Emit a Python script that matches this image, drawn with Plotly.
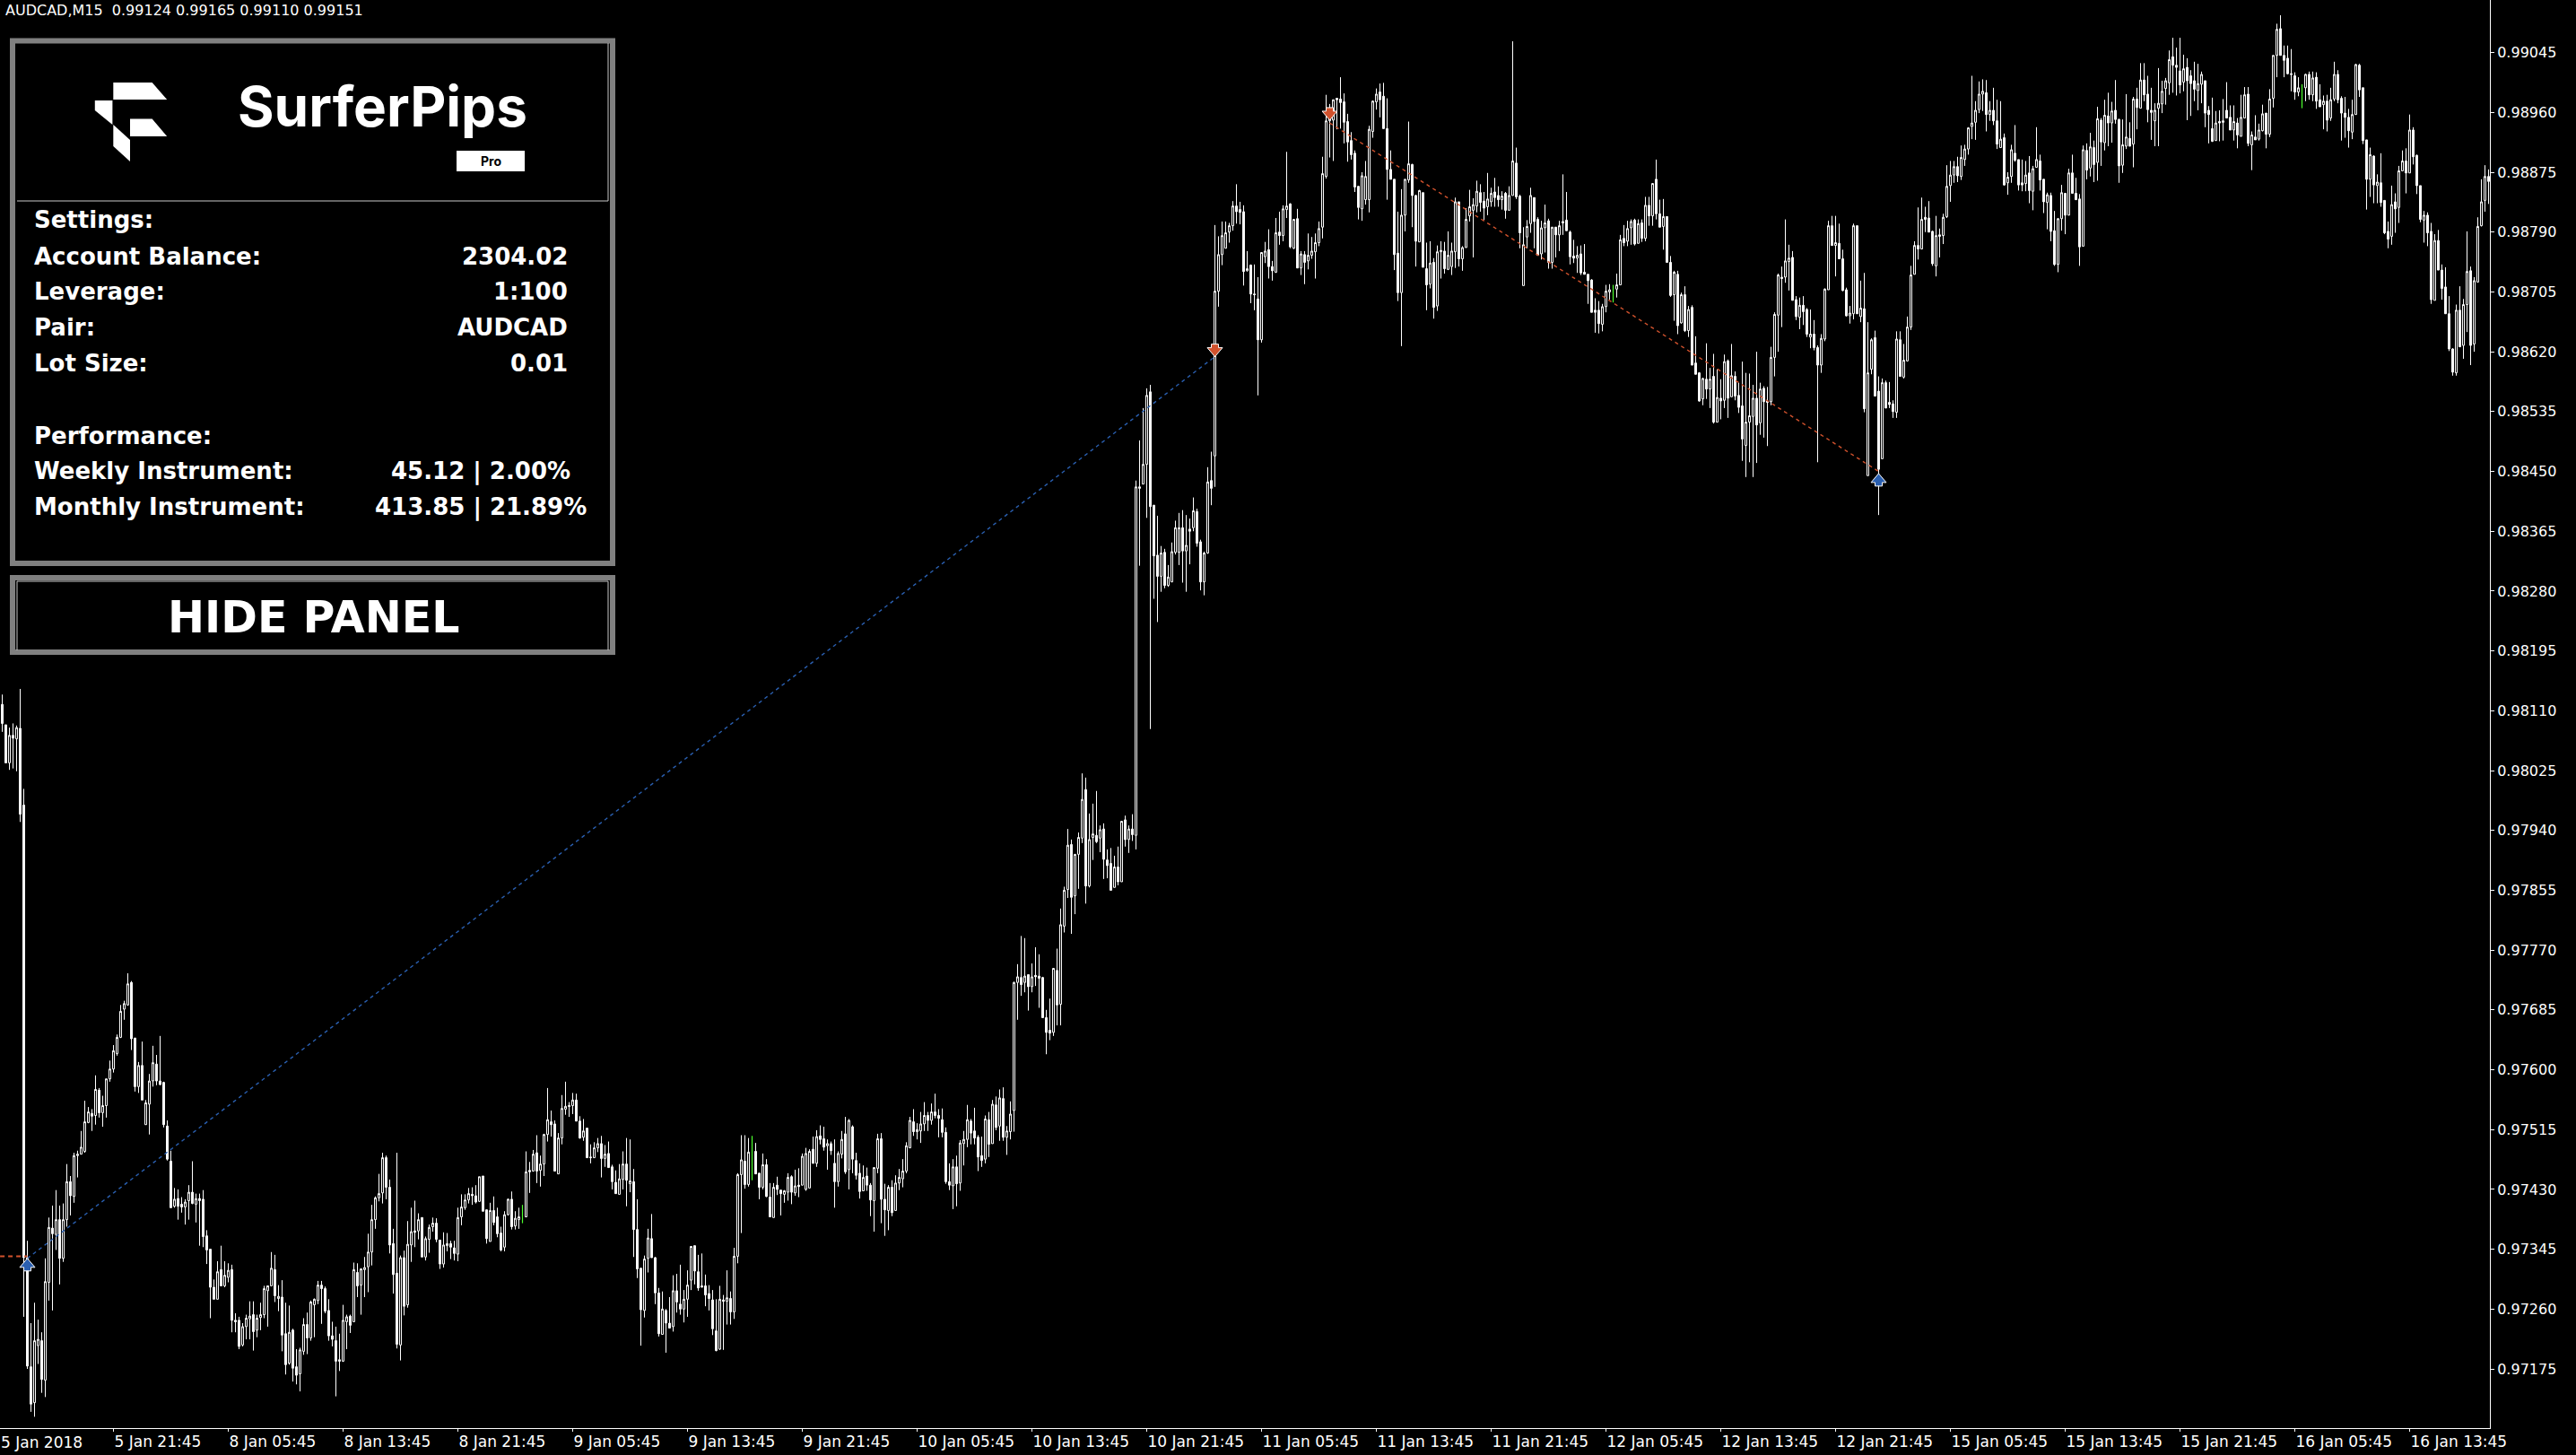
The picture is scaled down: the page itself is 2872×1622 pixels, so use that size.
import plotly.graph_objects as go

# Prices in points (value / 100000). None marks the four green doji bars, drawn separately.
open_pts = [
98119,98090,98036,98075,98070,98085,97976,97333,97178,97127,97208,97215,97159,97298,97375,97366,97387,97332,97387,97441,
97420,97478,97480,97484,97525,97538,97535,97571,97539,97549,97587,97601,97623,97646,97686,97692,97724,97645,97576,97606,
97522,97551,97584,97608,97584,97582,97520,97470,97406,97417,97409,97405,97414,97426,97409,97417,97416,97364,97345,97291,
97274,97316,97293,97305,97316,97244,97244,97209,97235,97246,97252,97230,97248,97252,97286,97293,97316,97275,97277,97225,
97183,97230,97178,97168,97200,97238,97219,97266,97272,97294,97289,97258,97222,97215,97188,97186,97242,97250,97242,97312,
97294,97316,97320,97341,97387,97418,97425,97475,97433,97353,97311,97209,97333,97266,97351,97371,97371,97390,97334,97359,
97377,97382,97358,97324,97350,97353,97347,97338,97391,97404,97415,97423,97421,97413,97449,97401,97356,97400,97391,97368,
97348,97394,97416,97378,97387,None,97391,97457,97456,97482,97457,97466,97508,97526,97523,97452,97503,97544,97549,97549,
97557,97527,97504,97517,97476,97475,97489,97495,97474,97481,97462,97440,97423,97444,97466,97438,97441,97373,97318,97258,
97332,97360,97333,97283,97224,97258,97240,97235,97286,97267,97260,97274,97301,97350,97313,97293,97293,97282,97273,97229,
97203,97273,97271,97275,97256,97335,97451,97470,97437,None,97484,97453,97433,97465,97419,97390,97436,97429,97423,97426,
97448,97425,97436,97436,97430,97432,97487,97467,97506,97502,97492,97495,97467,97441,97480,97509,97458,97519,97471,97453,
97428,97449,97436,97414,97460,97502,97416,97400,97433,97400,97439,97445,97456,97489,97526,97512,97513,97523,97535,97528,
97540,97535,97529,97511,97441,97435,97462,97439,97495,97501,97527,97513,97504,97478,97473,97529,97495,97550,97520,97559,
97504,97512,97542,97724,97731,97724,97735,97718,97734,97733,97731,97674,97656,97653,97741,97693,97804,97856,97920,97847,
97906,97929,97998,97861,97930,97933,97929,97942,97898,97893,97859,97888,97867,97955,97927,97942,97933,98428,98432,98460,
98563,98402,98331,98301,98335,98288,98293,98335,98335,98370,98337,98368,98370,98393,98350,98293,98334,98437,98472,98706,
98758,98767,98790,98799,98827,98822,98819,98735,98743,98702,98695,98637,98755,98765,98741,98733,98790,98785,98822,98830,
98767,98809,98739,98758,98749,98757,98762,98775,98797,98869,98948,98949,98980,98979,98975,98947,98920,98902,98855,98823,
98836,98836,98933,98975,98989,98983,98937,98879,98865,98760,98704,98814,98864,98886,98842,98776,98846,98738,98716,98747,
98685,98762,98763,98737,98741,98762,98833,98752,98768,98813,98821,98827,98846,98834,98826,98833,98847,98842,98836,98845,
98821,98842,98888,98841,98714,98783,98802,98839,98808,98759,98796,98806,98747,98797,98786,98805,98807,98790,98756,98753,
98759,98733,98730,98722,98679,98679,98659,98684,98705,None,98709,98715,98781,98777,98796,98807,98774,98803,98781,98828,
98813,98865,98816,98798,98812,98747,98701,98730,98661,98701,98650,98683,98604,98590,98553,98581,98567,98585,98520,98554,
98551,98607,98556,98585,98558,98543,98487,98520,98528,98554,98519,98568,98550,98549,98612,98672,98726,98726,98748,98754,
98694,98669,98686,98680,98641,98645,98626,98601,98638,98708,98799,98771,98774,98752,98708,98671,98674,98799,98670,98681,
98444,98595,98640,98564,98468,98576,98548,98546,98534,98637,98584,98607,98655,98730,98771,98766,98811,98810,98791,98742,
98786,98785,98812,98856,98871,98883,98869,98893,98908,98940,98946,98964,98986,98988,98957,98963,98948,98910,98924,98860,
98869,98902,98893,98860,98859,98874,98848,98882,98891,98865,98832,98842,98792,98744,98809,98845,98814,98874,98845,98837,
98770,98906,98881,98910,98889,98949,98917,98955,98945,98963,98950,98885,98912,98923,98915,98979,98966,99006,98986,98963,
98948,98966,98972,98994,99002,99039,99027,99019,99003,99024,99012,99005,98991,99000,99005,98963,98937,98920,98947,98948,
98963,98953,98935,98945,98926,98952,98986,98914,98925,98922,98934,98959,98929,98980,99041,99079,99041,99037,99015,99012,
98989,None,98995,99014,98985,99010,98978,98971,98976,98952,98979,99014,98980,98959,98953,98932,98957,99027,98995,98921,
98865,98898,98856,98860,98835,98791,98784,98833,98825,98877,98891,98874,98935,98899,98856,98807,98814,98791,98693,98778,
98736,98712,98674,98624,98590,98679,98629,98687,98735,98631,98719,98799,98835,98869]

close_pts = [
98092,98036,98075,98071,98086,97963,97333,97179,97125,97215,97217,97160,97299,97376,97367,97387,97332,97387,97441,97421,
97478,97480,97490,97526,97540,97534,97572,97539,97549,97587,97601,97627,97646,97683,97694,97722,97644,97576,97606,97557,
97553,97584,97610,97584,97579,97522,97473,97404,97416,97406,97405,97412,97426,97410,97417,97414,97363,97344,97291,97274,
97313,97293,97308,97315,97244,97242,97207,97235,97247,97250,97228,97247,97252,97289,97293,97318,97279,97278,97223,97181,
97227,97176,97166,97202,97238,97219,97270,97274,97294,97289,97257,97222,97217,97186,97186,97244,97249,97237,97316,97293,
97317,97319,97341,97387,97418,97424,97475,97433,97351,97309,97210,97333,97264,97352,97370,97369,97387,97334,97360,97376,
97382,97359,97324,97351,97353,97348,97339,97390,97405,97415,97424,97421,97412,97448,97399,97360,97400,97383,97367,97344,
97394,97416,97377,97389,97391,None,97455,97455,97480,97456,97466,97508,97529,97522,97456,97503,97545,97548,97548,97557,
97527,97503,97513,97475,97475,97489,97495,97474,97480,97461,97441,97424,97445,97466,97443,97442,97373,97317,97259,97331,
97361,97333,97283,97225,97260,97240,97233,97286,97270,97260,97274,97294,97349,97314,97290,97291,97280,97275,97232,97201,
97274,97271,97276,97256,97335,97451,97472,97437,97483,None,97452,97433,97465,97420,97391,97433,97430,97424,97428,97447,
97426,97435,97434,97477,97481,97484,97467,97505,97501,97490,97495,97485,97441,97481,97501,97455,97528,97473,97450,97427,
97447,97436,97415,97461,97502,97416,97401,97433,97397,97439,97447,97456,97492,97528,97512,97515,97523,97535,97528,97540,
97535,97531,97511,97441,97436,97462,97438,97496,97501,97529,97510,97503,97476,97471,97530,97494,97551,97518,97560,97504,
97513,97537,97724,97732,97721,97733,97718,97732,97732,97730,97674,97653,97652,97744,97692,97806,97855,97919,97845,97906,
97930,97984,97861,97927,97935,97924,97941,97899,97890,97855,97888,97867,97953,97927,97942,97934,98428,98426,98460,98558,
98400,98330,98301,98334,98288,98300,98336,98370,98370,98337,98345,98365,98394,98348,98293,98334,98435,98426,98706,98758,
98785,98789,98799,98827,98819,98818,98734,98738,98702,98701,98637,98761,98763,98741,98735,98789,98785,98823,98827,98769,
98808,98739,98759,98747,98757,98763,98775,98795,98873,98948,98952,98978,98978,98974,98946,98918,98900,98854,98825,98870,
98869,98936,98976,98986,98978,98937,98879,98865,98758,98704,98814,98865,98887,98842,98777,98849,98740,98715,98746,98683,
98762,98764,98738,98757,98763,98833,98752,98768,98808,98826,98829,98848,98832,98824,98837,98845,98839,98836,98841,98821,
98842,98891,98840,98789,98772,98798,98842,98805,98757,98796,98803,98747,98797,98786,98799,98803,98792,98755,98753,98757,
98732,98730,98721,98676,98676,98660,98684,98706,98708,None,98715,98779,98775,98795,98805,98773,98802,98781,98828,98813,
98859,98816,98797,98812,98747,98700,98733,98657,98701,98650,98680,98601,98588,98550,98582,98567,98581,98520,98555,98550,
98606,98554,98586,98557,98541,98496,98520,98529,98554,98516,98567,98549,98548,98612,98673,98729,98724,98749,98753,98693,
98670,98686,98677,98645,98645,98626,98601,98639,98709,98799,98771,98775,98752,98707,98671,98675,98799,98674,98682,98539,
98590,98637,98557,98453,98576,98540,98545,98535,98638,98585,98608,98655,98729,98771,98766,98808,98808,98790,98745,98785,
98784,98811,98855,98871,98883,98870,98896,98908,98938,98945,98963,98986,98990,98957,98963,98948,98915,98922,98857,98868,
98907,98892,98857,98857,98871,98849,98880,98893,98864,98833,98843,98791,98744,98809,98846,98814,98874,98845,98836,98769,
98907,98878,98911,98886,98951,98918,98956,98945,98962,98950,98884,98914,98925,98912,98979,98967,99006,98985,98964,98960,
98963,98973,98990,99005,99035,99027,99024,98999,99022,99005,99001,98993,99001,99014,98959,98957,98919,98945,98945,98946,
98952,98935,98947,98928,98953,98985,98916,98928,98921,98935,98958,98929,98979,99041,99078,99041,99034,99015,99014,98989,
98995,None,99014,98985,99009,98976,98968,98976,98949,98978,99014,98978,98959,98953,98934,98957,99028,98992,98920,98865,
98900,98857,98861,98832,98789,98780,98829,98823,98877,98891,98874,98935,98897,98856,98808,98814,98789,98694,98778,98736,
98710,98674,98624,98591,98679,98627,98687,98734,98629,98721,98798,98833,98869,98862]

high_pts = [
98133,98090,98086,98092,98089,98141,97999,97357,97240,97269,97245,97227,97332,97390,97407,97429,97407,97410,97466,97449,
97482,97485,97513,97556,97547,97544,97592,97574,97563,97587,97613,97635,97650,97692,97698,97737,97726,97645,97611,97640,
97557,97594,97634,97621,97648,97583,97528,97485,97432,97430,97419,97416,97436,97470,97424,97424,97429,97372,97345,97302,
97328,97350,97328,97325,97323,97254,97249,97240,97252,97271,97271,97252,97269,97293,97293,97341,97337,97294,97301,97269,
97265,97232,97203,97205,97247,97255,97272,97275,97300,97300,97292,97274,97242,97235,97225,97266,97252,97252,97326,97325,
97318,97334,97367,97408,97420,97452,97482,97478,97444,97374,97482,97336,97343,97385,97404,97414,97396,97390,97363,97380,
97390,97389,97358,97369,97368,97357,97357,97404,97423,97423,97432,97433,97436,97448,97449,97401,97411,97420,97404,97377,
97399,97417,97427,97399,97404,None,97484,97469,97486,97507,97478,97509,97574,97542,97528,97510,97564,97583,97554,97567,
97566,97534,97530,97517,97494,97497,97503,97506,97493,97498,97465,97457,97466,97484,97503,97501,97459,97416,97318,97336,
97374,97395,97334,97290,97285,97260,97277,97308,97310,97323,97287,97315,97349,97350,97337,97339,97309,97294,97287,97274,
97293,97280,97315,97285,97347,97453,97507,97507,97503,None,97496,97453,97481,97473,97439,97439,97448,97429,97429,97453,
97450,97458,97460,97481,97489,97487,97505,97514,97521,97519,97501,97498,97501,97484,97513,97533,97530,97521,97482,97467,
97464,97461,97439,97461,97509,97510,97438,97436,97443,97450,97459,97473,97497,97533,97544,97524,97540,97554,97540,97552,
97566,97544,97545,97518,97467,97473,97478,97500,97513,97550,97530,97546,97507,97505,97535,97540,97557,97562,97572,97575,
97520,97555,97725,97750,97790,97787,97735,97751,97774,97764,97732,97685,97701,97744,97772,97829,97860,97942,97927,97906,
97937,98021,98015,97964,97978,97996,97947,97950,97913,97915,97904,97917,97953,97961,97947,97963,98437,98494,98540,98568,
98573,98402,98387,98344,98340,98317,98349,98380,98391,98395,98388,98383,98413,98397,98353,98336,98456,98478,98800,98784,
98805,98805,98803,98834,98858,98833,98828,98763,98744,98744,98726,98761,98776,98794,98749,98810,98819,98828,98904,98831,
98808,98823,98763,98763,98788,98783,98788,98805,98897,98985,98972,98978,98980,99010,98987,98958,98932,98906,98855,98875,
98891,98941,98977,98994,99001,99002,98980,98906,98865,98819,98851,98865,98947,98887,98843,98850,98846,98775,98777,98753,
98771,98777,98776,98791,98775,98839,98833,98770,98824,98850,98838,98863,98858,98847,98874,98853,98867,98855,98848,98847,
98855,99061,98910,98843,98797,98807,98853,98839,98811,98806,98829,98809,98797,98797,98806,98872,98847,98792,98779,98770,
98771,98773,98730,98723,98696,98692,98688,98715,98716,None,98731,98786,98800,98806,98808,98809,98808,98808,98840,98840,
98859,98893,98836,98837,98812,98756,98735,98735,98704,98713,98685,98686,98642,98591,98583,98632,98597,98617,98595,98581,
98616,98609,98631,98592,98576,98606,98590,98589,98573,98620,98576,98571,98570,98627,98676,98731,98741,98808,98772,98763,
98699,98697,98699,98682,98680,98665,98629,98645,98710,98806,98813,98813,98802,98765,98711,98685,98802,98799,98721,98732,
98662,98639,98650,98585,98582,98579,98577,98551,98649,98649,98631,98670,98742,98777,98825,98839,98826,98834,98792,98813,
98795,98816,98885,98891,98891,98897,98913,98914,98939,99012,98976,99004,99007,99006,98976,98995,98978,98976,98930,98875,
98914,98942,98893,98893,98891,98898,98884,98939,98900,98865,98846,98846,98820,98810,98857,98845,98880,98900,98867,98844,
98913,98916,98931,98920,98968,98952,98978,98988,98975,99006,98951,98950,98986,98946,98982,98995,99030,99030,99012,98995,
98973,99023,99005,99009,99048,99066,99052,99066,99042,99037,99020,99032,99029,99018,99005,98969,98981,98962,98963,98979,
99003,98970,98970,98952,98985,98996,98996,98933,98956,98944,98971,98959,98993,99041,99086,99098,99055,99055,99050,99017,
99010,None,99015,99018,99018,99017,99000,98984,98985,98995,99032,99020,98983,98982,98965,98978,99029,99029,98995,98921,
98910,98899,98872,98902,98835,98805,98856,98845,98884,98906,98909,98957,98939,98900,98856,98820,98818,98803,98787,98793,
98744,98740,98699,98625,98687,98713,98695,98791,98741,98726,98811,98865,98885,98879]

low_pts = [
98080,98036,98026,98028,98024,97952,97249,97175,97114,97107,97182,97141,97135,97272,97258,97344,97295,97327,97377,97393,
97411,97447,97480,97482,97524,97513,97522,97532,97519,97532,97583,97596,97620,97645,97671,97691,97628,97569,97567,97557,
97522,97508,97576,97578,97578,97518,97471,97404,97404,97387,97397,97380,97387,97409,97383,97350,97348,97324,97247,97274,
97274,97293,97291,97298,97227,97227,97203,97207,97217,97217,97201,97220,97230,97247,97235,97293,97270,97257,97200,97167,
97181,97157,97153,97143,97195,97196,97215,97220,97267,97239,97254,97215,97207,97136,97172,97185,97203,97226,97242,97277,
97252,97277,97284,97322,97374,97413,97410,97416,97339,97282,97204,97187,97251,97262,97327,97348,97359,97334,97329,97340,
97370,97355,97317,97319,97342,97331,97329,97328,97379,97401,97410,97408,97410,97412,97399,97353,97356,97379,97362,97342,
97342,97393,97373,97373,97374,None,97391,97425,97456,97439,97434,97449,97498,97505,97456,97452,97494,97536,97533,97537,
97527,97502,97499,97475,97467,97475,97483,97447,97462,97461,97430,97424,97423,97430,97406,97426,97334,97304,97208,97248,
97312,97333,97267,97221,97224,97198,97233,97228,97255,97252,97241,97249,97287,97295,97286,97291,97264,97258,97223,97200,
97202,97202,97238,97238,97246,97325,97368,97431,97434,None,97452,97416,97430,97419,97391,97390,97422,97393,97411,97414,
97409,97421,97419,97436,97428,97432,97467,97462,97494,97485,97458,97479,97404,97434,97474,97452,97430,97453,97444,97417,
97428,97428,97392,97370,97453,97382,97364,97372,97392,97400,97429,97433,97453,97489,97506,97501,97496,97513,97513,97522,
97531,97504,97504,97438,97429,97402,97406,97428,97464,97490,97494,97494,97456,97462,97467,97476,97495,97514,97499,97499,
97479,97501,97512,97671,97705,97710,97684,97710,97719,97688,97674,97622,97642,97648,97663,97663,97795,97844,97793,97821,
97857,97922,97836,97859,97898,97922,97909,97871,97872,97855,97859,97862,97867,97917,97908,97925,97913,98316,98432,98384,
98084,98269,98236,98279,98284,98286,98293,98332,98317,98292,98279,98318,98365,98343,98281,98274,98333,98402,98428,98684,
98743,98767,98775,98792,98802,98801,98714,98734,98689,98679,98558,98633,98746,98724,98721,98732,98772,98777,98810,98767,
98766,98739,98729,98716,98737,98752,98724,98770,98781,98866,98896,98891,98936,98937,98916,98890,98893,98847,98808,98806,
98829,98818,98924,98964,98953,98937,98836,98865,98736,98692,98628,98791,98860,98797,98741,98776,98740,98679,98710,98667,
98678,98724,98731,98736,98729,98739,98741,98735,98768,98805,98754,98818,98819,98807,98814,98826,98826,98826,98822,98809,
98821,98842,98837,98767,98714,98767,98789,98767,98757,98751,98761,98738,98738,98754,98763,98786,98792,98744,98746,98732,
98729,98730,98688,98676,98647,98646,98649,98676,98694,None,98697,98715,98770,98770,98772,98771,98774,98776,98777,98799,
98799,98808,98797,98765,98747,98698,98664,98645,98660,98648,98641,98601,98588,98549,98544,98553,98540,98518,98520,98524,
98540,98526,98556,98551,98533,98465,98442,98463,98442,98462,98502,98498,98486,98544,98585,98620,98655,98718,98707,98693,
98665,98652,98658,98641,98625,98622,98463,98590,98635,98708,98771,98727,98752,98706,98670,98660,98666,98674,98662,98534,
98444,98588,98557,98388,98468,98540,98540,98526,98526,98585,98582,98606,98651,98730,98751,98766,98790,98790,98742,98727,
98754,98773,98810,98833,98860,98861,98864,98884,98900,98922,98921,98959,98962,98933,98948,98942,98908,98910,98856,98843,
98860,98890,98849,98848,98848,98831,98821,98882,98849,98817,98794,98777,98742,98733,98792,98787,98814,98845,98836,98742,
98770,98865,98869,98861,98863,98884,98906,98912,98917,98944,98860,98874,98908,98912,98882,98936,98966,98976,98946,98921,
98912,98912,98959,98971,98985,98988,98984,98987,98990,98949,98955,98976,98963,98973,98939,98916,98918,98920,98919,98920,
98952,98935,98920,98909,98926,98952,98912,98878,98921,98920,98933,98909,98925,98967,99010,99041,99010,99014,98990,98978,
98983,None,98976,98978,98976,98965,98968,98936,98933,98948,98976,98973,98920,98924,98910,98922,98957,98982,98915,98822,
98840,98831,98831,98826,98787,98767,98772,98789,98803,98877,98845,98874,98886,98844,98804,98775,98770,98688,98693,98736,
98694,98674,98621,98586,98586,98627,98610,98648,98601,98620,98719,98798,98819,98830]

green_bar = [145, 209, 449, 641]
green_high = [97408, 97506, 98715, 99000]
green_low = [97382, 97443, 98690, 98966]

sell_bar = [338, 370]
sell_price = [98613, 98949]
buy_bar = [7, 523]
buy_price = [97332, 98447]

blue_line_bar = [7, 338]
blue_line_price = [97332, 98613]
red_line_bar = [370, 523]
red_line_price = [98945, 98450]
red_stub_bar = [-0.6, 7]
red_stub_price = [97335, 97335]

date_ticks = [31 + 32 * k for k in range(21)]
date_labels = ["5 Jan 21:45", "8 Jan 05:45", "8 Jan 13:45", "8 Jan 21:45", "9 Jan 05:45", "9 Jan 13:45",
               "9 Jan 21:45", "10 Jan 05:45", "10 Jan 13:45", "10 Jan 21:45", "11 Jan 05:45", "11 Jan 13:45",
               "11 Jan 21:45", "12 Jan 05:45", "12 Jan 13:45", "12 Jan 21:45", "15 Jan 05:45", "15 Jan 13:45",
               "15 Jan 21:45", "16 Jan 05:45", "16 Jan 13:45"]

settings_rows = [("Settings:", "", 245), ("Account Balance:", "2304.02", 285.5), ("Leverage:", "1:100", 325),
                 ("Pair:", "AUDCAD", 365), ("Lot Size:", "0.01", 405), ("Performance:", "", 486),
                 ("Weekly Instrument:", "45.12 | 2.00%", 525), ("Monthly Instrument:", "413.85 | 21.89%", 565)]

assert all(len(a) == 694 for a in (open_pts, high_pts, low_pts, close_pts)), \
    [len(a) for a in (open_pts, high_pts, low_pts, close_pts)]

W, H = 2872, 1622
PW, PH = 2776, 1592
BG = "#000000"
RED = "#d2522d"
BLUE = "#2a5fb0"
PT_PER_PX = 1.2744  # vertical scale, used only to size the arrow glyphs


def scaled(values):
    return [None if v is None else v / 1e5 for v in values]


def px(x):
    return x / PW


def py(y):
    return 1 - y / PH


bars = list(range(len(open_pts)))
fig = go.Figure()
fig.add_trace(go.Candlestick(
    x=bars, open=scaled(open_pts), high=scaled(high_pts), low=scaled(low_pts), close=scaled(close_pts),
    increasing=dict(line=dict(color="white", width=1), fillcolor="black"),
    decreasing=dict(line=dict(color="white", width=1), fillcolor="white"),
    whiskerwidth=0, showlegend=False, hoverinfo="skip"))

gx, gy = [], []
for b, hi, lo in zip(green_bar, green_high, green_low):
    gx += [b, b, None]
    gy += [hi / 1e5, lo / 1e5, None]
fig.add_trace(go.Scatter(x=gx, y=gy, mode="lines", line=dict(color="#4cff2e", width=1.2),
                         showlegend=False, hoverinfo="skip"))

for bx, by, col in ((blue_line_bar, blue_line_price, BLUE), (red_line_bar, red_line_price, RED)):
    fig.add_trace(go.Scatter(x=bx, y=[v / 1e5 for v in by], mode="lines",
                             line=dict(color=col, width=1.4, dash="4px,4px"), showlegend=False, hoverinfo="skip"))
fig.add_trace(go.Scatter(x=red_stub_bar, y=[v / 1e5 for v in red_stub_price], mode="lines",
                         line=dict(color=RED, width=2, dash="5px,4px"), showlegend=False, hoverinfo="skip"))


def arrow(bar, price, direction, color):
    # block arrow whose tip sits on the price; direction +1 points up, -1 points down
    outline = [(0, 0), (8.5, 10), (4, 10), (4, 14), (-4, 14), (-4, 10), (-8.5, 10), (0, 0)]
    xs = [bar + dx / 4 for dx, _ in outline]
    ys = [(price - direction * dy * PT_PER_PX) / 1e5 for _, dy in outline]
    return go.Scatter(x=xs, y=ys, mode="lines", fill="toself", fillcolor=color,
                      line=dict(color="white", width=1), showlegend=False, hoverinfo="skip")


for b, p in zip(sell_bar, sell_price):
    fig.add_trace(arrow(b, p, -1, RED))
for b, p in zip(buy_bar, buy_price):
    fig.add_trace(arrow(b, p, 1, BLUE))


def rect(x0, y0, x1, y1, line=None, width=0, fill=None):
    return dict(type="rect", xref="paper", yref="paper", x0=px(x0), x1=px(x1), y0=py(y1), y1=py(y0),
                line=dict(color=line or "rgba(0,0,0,0)", width=width), fillcolor=fill or "rgba(0,0,0,0)", layer="above")


def seg(x0, y0, x1, y1, color="#c8c8c8"):
    return dict(type="line", xref="paper", yref="paper", x0=px(x0), x1=px(x1), y0=py(y0), y1=py(y1),
                line=dict(color=color, width=1), layer="above")


def poly(points):
    d = "M " + " L ".join(f"{px(a):.5f} {py(b):.5f}" for a, b in points) + " Z"
    return dict(type="path", xref="paper", yref="paper", path=d, fillcolor="white",
                line=dict(color="white", width=0), layer="above")


shapes = [
    rect(14, 45.5, 683, 628, "#808080", 6, "black"),
    rect(14, 644, 683, 727, "#808080", 6, "black"),
    seg(19, 224, 678, 224), seg(678, 48, 678, 224),
    seg(19, 648, 678, 648), seg(19, 648, 19, 725), seg(678, 648, 678, 725),
    rect(509, 168, 585, 191, None, 0, "white"),
    poly([(126.3, 92), (169.6, 92), (186.2, 111), (126.3, 111)]),
    poly([(105.8, 112), (125.4, 112), (125.4, 139), (105.8, 123)]),
    poly([(126.3, 139), (145, 156), (145, 180), (126.3, 163)]),
    poly([(145, 132.6), (169.6, 132.6), (186.2, 152), (145, 152)]),
]


def label(text, x, y, size, anchor="left", family="DejaVu Sans", color="white", bold=False):
    shown = f"<b>{text}</b>" if bold else text
    return dict(text=shown, x=px(x), y=py(y), xref="paper", yref="paper", xanchor=anchor, yanchor="middle",
                showarrow=False, font=dict(family=family, size=size, color=color), borderpad=0)


annotations = [
    label("AUDCAD,M15  0.99124 0.99165 0.99110 0.99151", 5, 12, 16),
    label("SurferPips", 264, 118, 62, family="Inter", bold=True),
    label("Pro", 547, 180, 14, anchor="center", family="Inter", color="black", bold=True),
    label("HIDE PANEL", 350, 688, 49, anchor="center", family="DejaVu Sans", bold=True),
    label("5 Jan 2018", 0, 1608, 17),
]
for left, right, y in settings_rows:
    annotations.append(label(left, 37, y, 26, bold=True))
    if right:
        edge = 655 if "21.89" in right else (637 if "2.00" in right else 634)
        annotations.append(label(right, edge, y, 26, anchor="right", bold=True))

fig.update_layout(
    width=W, height=H, margin=dict(l=0, r=W - PW, t=0, b=H - PH, pad=0),
    paper_bgcolor=BG, plot_bgcolor=BG, showlegend=False, hovermode=False,
    shapes=shapes, annotations=annotations,
    font=dict(family="DejaVu Sans", size=16, color="white"),
    xaxis=dict(range=[-0.625, 693.375], tickvals=date_ticks, ticktext=date_labels, tickmode="array",
               ticks="outside", ticklen=3, tickwidth=1, tickcolor="white", tickangle=0,
               ticklabelposition="outside right", tickfont=dict(family="DejaVu Sans", size=17, color="white"),
               showgrid=False, zeroline=False, showline=True, linecolor="white", linewidth=1,
               rangeslider=dict(visible=False), fixedrange=True),
    yaxis=dict(side="right", range=[0.970909, 0.991197], tickvals=[(97175 + 85 * k) / 1e5 for k in range(23)],
               tickformat=".5f", ticks="outside", ticklen=4, tickwidth=1, tickcolor="white",
               tickfont=dict(family="DejaVu Sans", size=16, color="white"),
               showgrid=False, zeroline=False, showline=True, linecolor="white", linewidth=1, fixedrange=True),
)

fig.write_html("out.html", config=dict(displayModeBar=False),
               post_script="document.body.style.margin='0';document.body.style.background='#000';")
